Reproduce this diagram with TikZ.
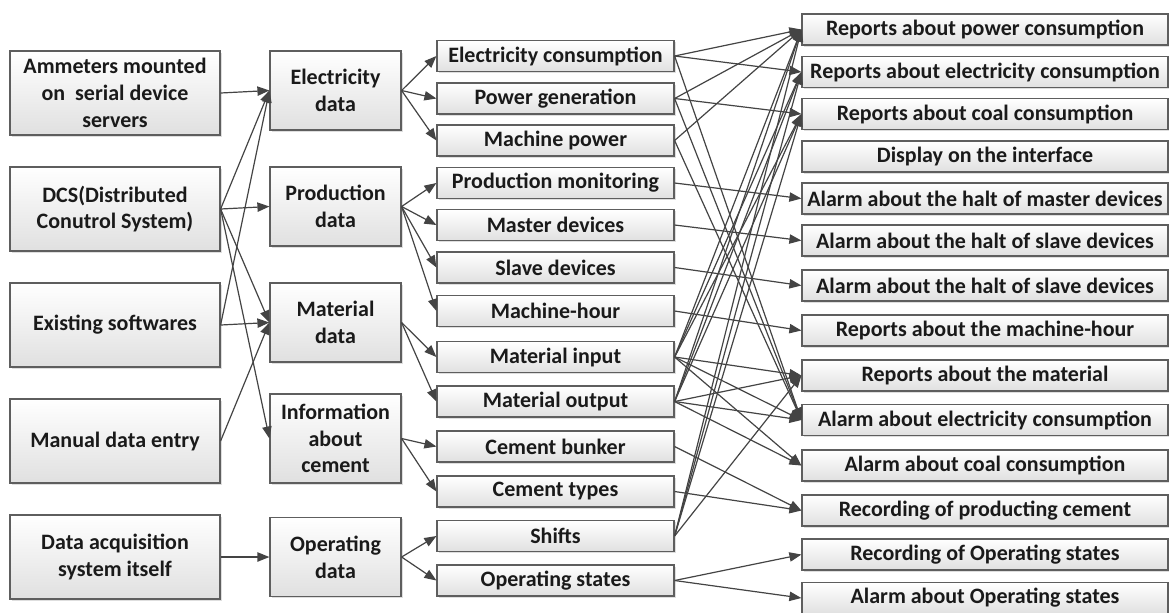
\documentclass[tikz,border=0pt]{standalone}
\usepackage{fontspec}
\setmainfont{Carlito}
\usetikzlibrary{arrows.meta,shadows}

\definecolor{boxline}{HTML}{5E5E5E}
\definecolor{boxbottom}{HTML}{E0E0E0}
\definecolor{linkc}{HTML}{444444}
\definecolor{inktext}{HTML}{1A1A1A}

\begin{document}
\begin{tikzpicture}[x=0.75pt,y=-0.75pt,
  box/.style={draw=boxline, line width=0.9pt, shading=axis, top color=white,
    bottom color=boxbottom, align=center, text=inktext, inner sep=0pt,
    font=\bfseries\fontsize{16.5}{20}\selectfont,
    drop shadow={shadow xshift=1.3pt, shadow yshift=-1.3pt, fill=black, opacity=0.13}},
  srcbox/.style={box, minimum width=157.5pt, minimum height=63pt},
  grpbox/.style={box, minimum width=98.25pt, minimum height=59.25pt},
  itembox/.style={box, minimum width=177.75pt, minimum height=23.25pt},
  outbox/.style={box, minimum width=274.5pt, minimum height=23.25pt},
  link/.style={draw=linkc, line width=0.9pt, -{Triangle[length=9pt,width=7pt]}},
]
\fill[white] (0,0) rectangle (1169,612);
\useasboundingbox (0,0) rectangle (1169,612);

% data sources
\node[srcbox] (a1) at (115,93)  {Ammeters mounted\\on\ \ serial device\\servers};
\node[srcbox] (a2) at (115,209) {DCS(Distributed\\Conutrol System)};
\node[srcbox] (a3) at (115,325) {Existing softwares};
\node[srcbox] (a4) at (115,441) {Manual data entry};
\node[srcbox] (a5) at (115,557) {Data acquisition\\system itself};

% data groups
\node[grpbox] (b1) at (335.5,90.5)  {Electricity\\data};
\node[grpbox] (b2) at (335.5,206.5) {Production\\data};
\node[grpbox] (b3) at (335.5,322.5) {Material\\data};
\node[grpbox, minimum height=66.75pt] (b4) at (335.5,438.5) {Information\\about\\cement};
\node[grpbox] (b5) at (335.5,557) {Operating\\data};

% data items
\node[itembox] (c1)  at (555.5,56)    {Electricity consumption};
\node[itembox] (c2)  at (555.5,98.5)  {Power generation};
\node[itembox] (c3)  at (555.5,140.5) {Machine power};
\node[itembox] (c4)  at (555.5,183)   {Production monitoring};
\node[itembox] (c5)  at (555.5,225)   {Master devices};
\node[itembox] (c6)  at (555.5,267.5) {Slave devices};
\node[itembox] (c7)  at (555.5,311)   {Machine-hour};
\node[itembox] (c8)  at (555.5,357)   {Material input};
\node[itembox] (c9)  at (555.5,401.5) {Material output};
\node[itembox] (c10) at (555.5,446.5) {Cement bunker};
\node[itembox] (c11) at (555.5,491.5) {Cement types};
\node[itembox] (c12) at (555.5,536)   {Shifts};
\node[itembox] (c13) at (555.5,580.5) {Operating states};

% outputs
\node[outbox] (d1)  at (985,29.5)  {Reports about power consumption};
\node[outbox] (d2)  at (985,72)    {Reports about electricity consumption};
\node[outbox] (d3)  at (985,114)   {Reports about coal consumption};
\node[outbox] (d4)  at (985,156.5) {Display on the interface};
\node[outbox] (d5)  at (985,198.5) {Alarm about the halt of master devices};
\node[outbox] (d6)  at (985,240.5) {Alarm about the halt of slave devices};
\node[outbox] (d7)  at (985,285.5) {Alarm about the halt of slave devices};
\node[outbox] (d8)  at (985,330.5) {Reports about the machine-hour};
\node[outbox] (d9)  at (985,375.5) {Reports about the material};
\node[outbox] (d10) at (985,420)   {Alarm about electricity consumption};
\node[outbox] (d11) at (985,465.5) {Alarm about coal consumption};
\node[outbox] (d12) at (985,510.5) {Recording of producting cement};
\node[outbox] (d13) at (985,554.5) {Recording of Operating states};
\node[outbox] (d14) at (985,598)   {Alarm about Operating states};

% sources -> groups
\foreach \s/\t in {a1/b1, a2/b1, a2/b2, a2/b3, a2/b4, a3/b1, a3/b3, a4/b3, a5/b5}
  \draw[link] (\s.east) -- (\t.west);

% groups -> items
\foreach \s/\t in {b1/c1, b1/c2, b1/c3, b2/c4, b2/c5, b2/c6, b2/c7,
                   b3/c8, b3/c9, b4/c10, b4/c11, b5/c12, b5/c13}
  \draw[link] (\s.east) -- (\t.west);

% items -> outputs
\foreach \s/\t in {c1/d1, c1/d2, c1/d10, c2/d1, c2/d3, c2/d10, c3/d1, c3/d10,
                   c4/d5, c5/d6, c6/d7, c7/d8,
                   c8/d1, c8/d2, c8/d3, c8/d9, c8/d10, c8/d11,
                   c9/d1, c9/d2, c9/d3, c9/d9, c9/d10, c9/d11,
                   c10/d12, c11/d12,
                   c12/d1, c12/d2, c12/d3, c12/d9,
                   c13/d13, c13/d14}
  \draw[link] (\s.east) -- (\t.west);
\end{tikzpicture}
\end{document}
